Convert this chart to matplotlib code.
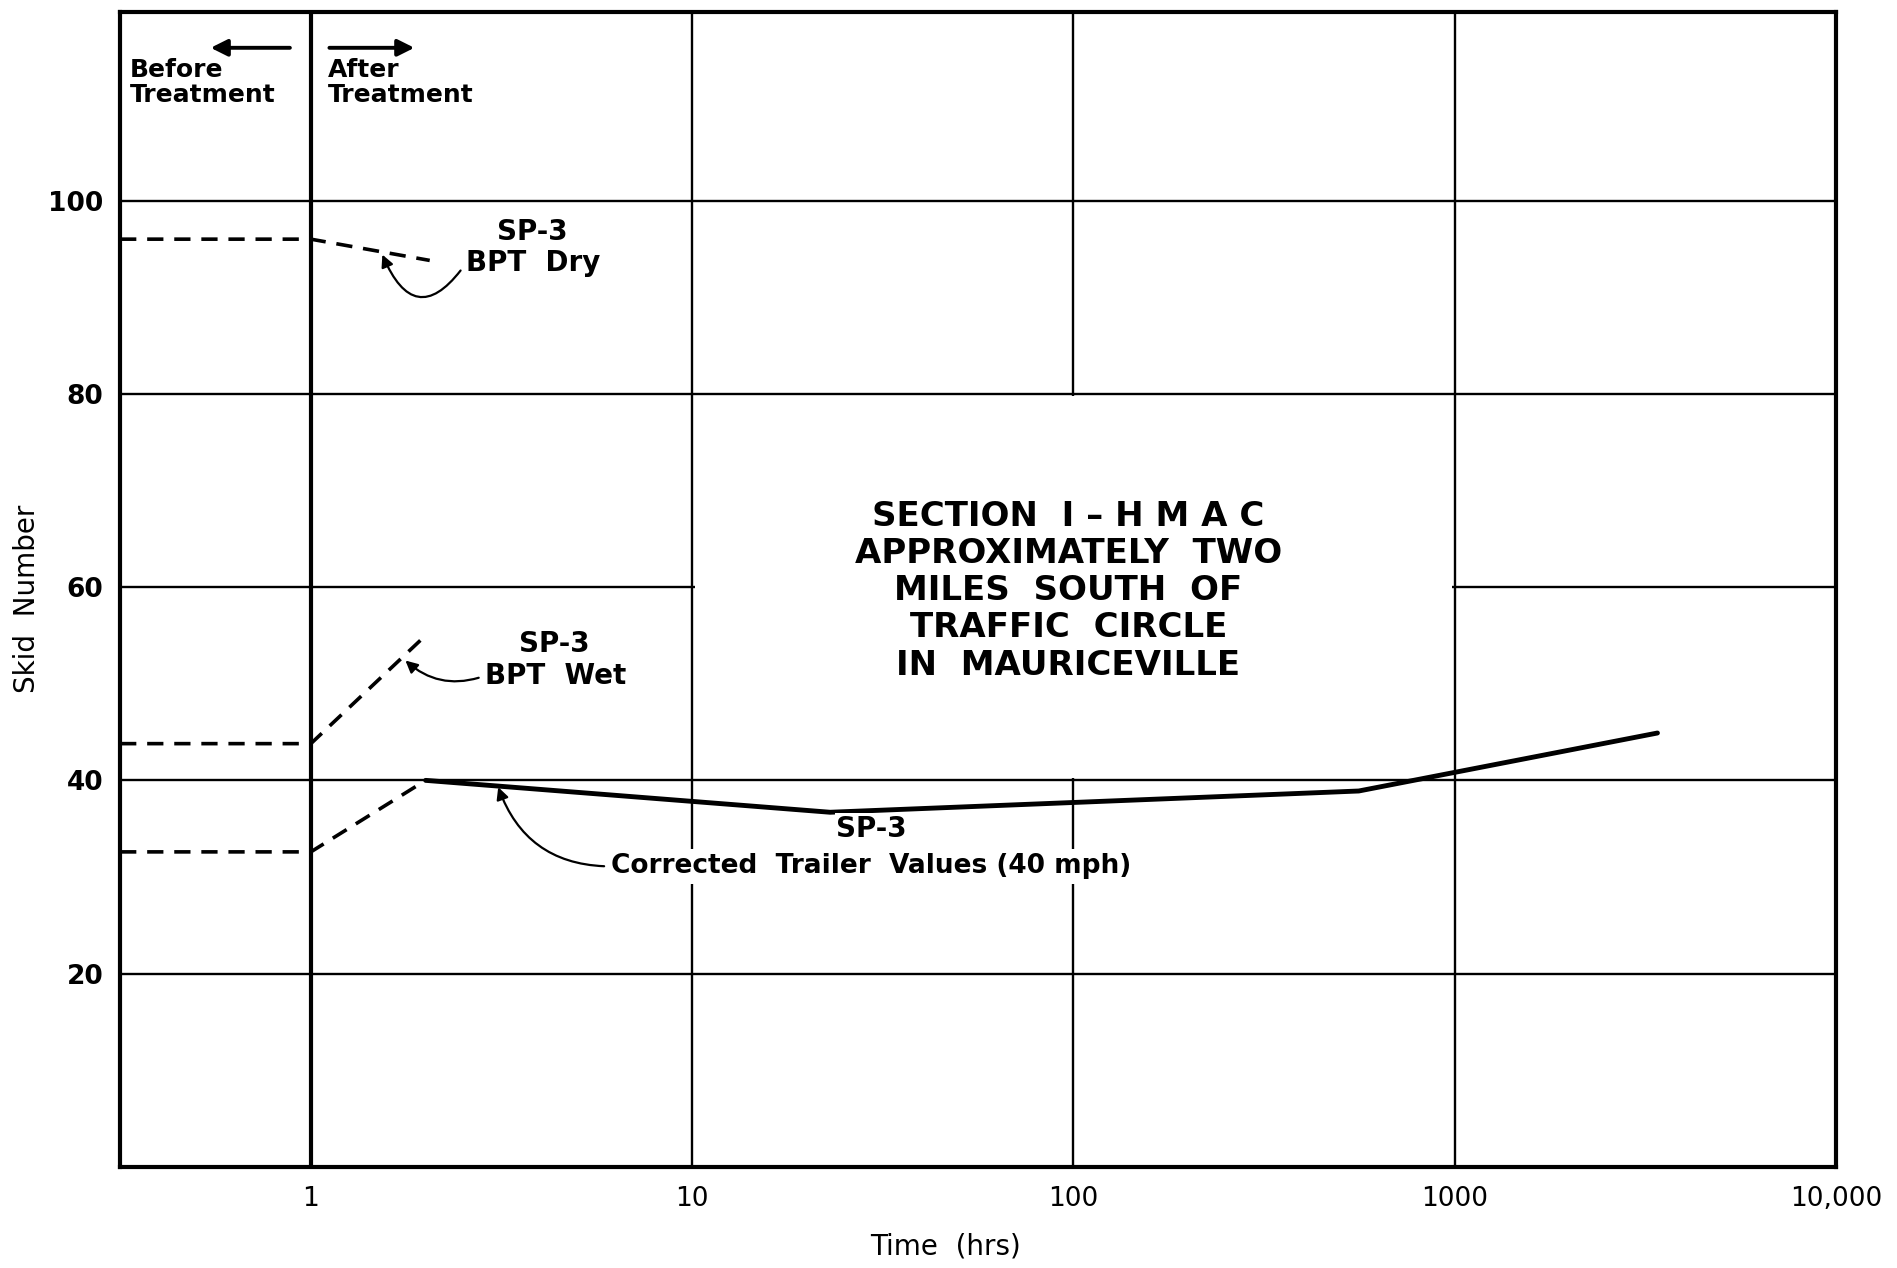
import matplotlib
matplotlib.use('Agg')
import matplotlib.pyplot as plt
from matplotlib.patches import Rectangle

# data (time in hrs, skid number)
dry_x = [0.316, 1, 2.05]
dry_y = [96, 96, 93.8]

wet_x = [0.316, 1, 2.0]
wet_y = [43.8, 43.8, 55]

trailer_before_x = [0.316, 1, 2.0]
trailer_before_y = [32.6, 32.6, 40]

trailer_x = [2.0, 23, 420, 560, 3400]
trailer_y = [40, 36.7, 38.7, 38.9, 44.9]

xticks = [1, 10, 100, 1000, 10000]
xtick_labels = ['1', '10', '100', '1000', '10,000']
yticks = [20, 40, 60, 80, 100]

section_text = ('SECTION  I \u2013 H M A C\nAPPROXIMATELY  TWO\n'
                'MILES  SOUTH  OF\nTRAFFIC  CIRCLE\nIN  MAURICEVILLE')

plt.rcParams['font.family'] = 'DejaVu Sans'

fig = plt.figure(figsize=(18.97, 12.68), dpi=100)
ax = fig.add_axes([0.0633, 0.0797, 0.9046, 0.9108])
ax.set_xscale('log')
ax.set_xlim(0.316, 10000)
ax.set_ylim(0, 119.5)

for s in ax.spines.values():
    s.set_linewidth(3)

# grid drawn by hand so the text box can blank part of it
for v in [10, 100, 1000]:
    ax.axvline(v, color='black', lw=1.7, zorder=1)
ax.axvline(1, color='black', lw=3, zorder=1)
for h in yticks:
    ax.axhline(h, color='black', lw=1.7, zorder=1)

ax.add_patch(Rectangle((10.15, 40.2), 1000 / 1.015 - 10.15, 79.8 - 40.2,
                       facecolor='white', edgecolor='none', zorder=1.5))

ax.set_xticks(xticks)
ax.set_xticklabels(xtick_labels, fontsize=19)
ax.minorticks_off()
ax.set_yticks(yticks)
ax.set_yticklabels([str(t) for t in yticks], fontsize=19, fontweight='bold')
ax.tick_params(axis='both', length=0)
ax.tick_params(axis='x', pad=14)
ax.tick_params(axis='y', pad=12)

ax.set_xlabel('Time  (hrs)', fontsize=20, va='center')
ax.xaxis.set_label_coords(0.481, -0.069)
ax.set_ylabel('Skid  Number', fontsize=20, va='center')
ax.yaxis.set_label_coords(-0.0544, 0.492)

# dashed BPT / trailer lines
for xs, ys in [(dry_x, dry_y), (wet_x, wet_y), (trailer_before_x, trailer_before_y)]:
    ax.plot(xs, ys, color='black', lw=2.6, linestyle=(0, (4.5, 3)), zorder=3)
ax.plot(trailer_x, trailer_y, color='black', lw=3.5, solid_capstyle='round', zorder=3)

# before / after arrows
ax.annotate('', xy=(0.537, 115.8), xytext=(0.896, 115.8),
            arrowprops=dict(arrowstyle='-|>', color='black', lw=2.8,
                            mutation_scale=25))
ax.annotate('', xy=(1.90, 115.8), xytext=(1.10, 115.8),
            arrowprops=dict(arrowstyle='-|>', color='black', lw=2.8,
                            mutation_scale=25))
ax.text(0.336, 114.7, 'Before\nTreatment', fontsize=18, fontweight='bold',
        va='top', ha='left', linespacing=1.05)
ax.text(1.107, 114.7, 'After\nTreatment', fontsize=18, fontweight='bold',
        va='top', ha='left', linespacing=1.05)

# curve labels
ax.text(3.81, 96.7, 'SP-3', fontsize=20, fontweight='bold', ha='center', va='center')
ax.annotate('BPT  Dry', xy=(1.54, 94.4), xytext=(2.55, 93.5),
            fontsize=20, fontweight='bold', ha='left', va='center',
            arrowprops=dict(arrowstyle='-|>', color='black', lw=1.6,
                            mutation_scale=18, relpos=(0, 0.5),
                            connectionstyle='arc3,rad=-0.9',
                            shrinkA=3, shrinkB=0))
ax.text(4.35, 54.1, 'SP-3', fontsize=20, fontweight='bold', ha='center', va='center')
ax.annotate('BPT  Wet', xy=(1.77, 52.4), xytext=(2.87, 50.85),
            fontsize=20, fontweight='bold', ha='left', va='center',
            arrowprops=dict(arrowstyle='-|>', color='black', lw=1.6,
                            mutation_scale=18, relpos=(0, 0.5),
                            connectionstyle='arc3,rad=-0.3',
                            shrinkA=3, shrinkB=0))
ax.text(29.5, 35.0, 'SP-3', fontsize=20, fontweight='bold', ha='center', va='center',
        bbox=dict(facecolor='white', edgecolor='none', pad=1))
ax.annotate('Corrected  Trailer  Values (40 mph)', xy=(3.1, 39.3), xytext=(6.13, 31.1),
            fontsize=19, fontweight='bold', ha='left', va='center',
            bbox=dict(facecolor='white', edgecolor='none', pad=3),
            arrowprops=dict(arrowstyle='-|>', color='black', lw=1.6,
                            mutation_scale=18, relpos=(0, 0.5),
                            connectionstyle='arc3,rad=-0.35',
                            shrinkA=2, shrinkB=0))

ax.text(97, 59.6, section_text, fontsize=24.5, fontweight='bold', ha='center',
        va='center', multialignment='center', linespacing=1.155, zorder=2)

fig.savefig('out.png', dpi=100, facecolor='white')
